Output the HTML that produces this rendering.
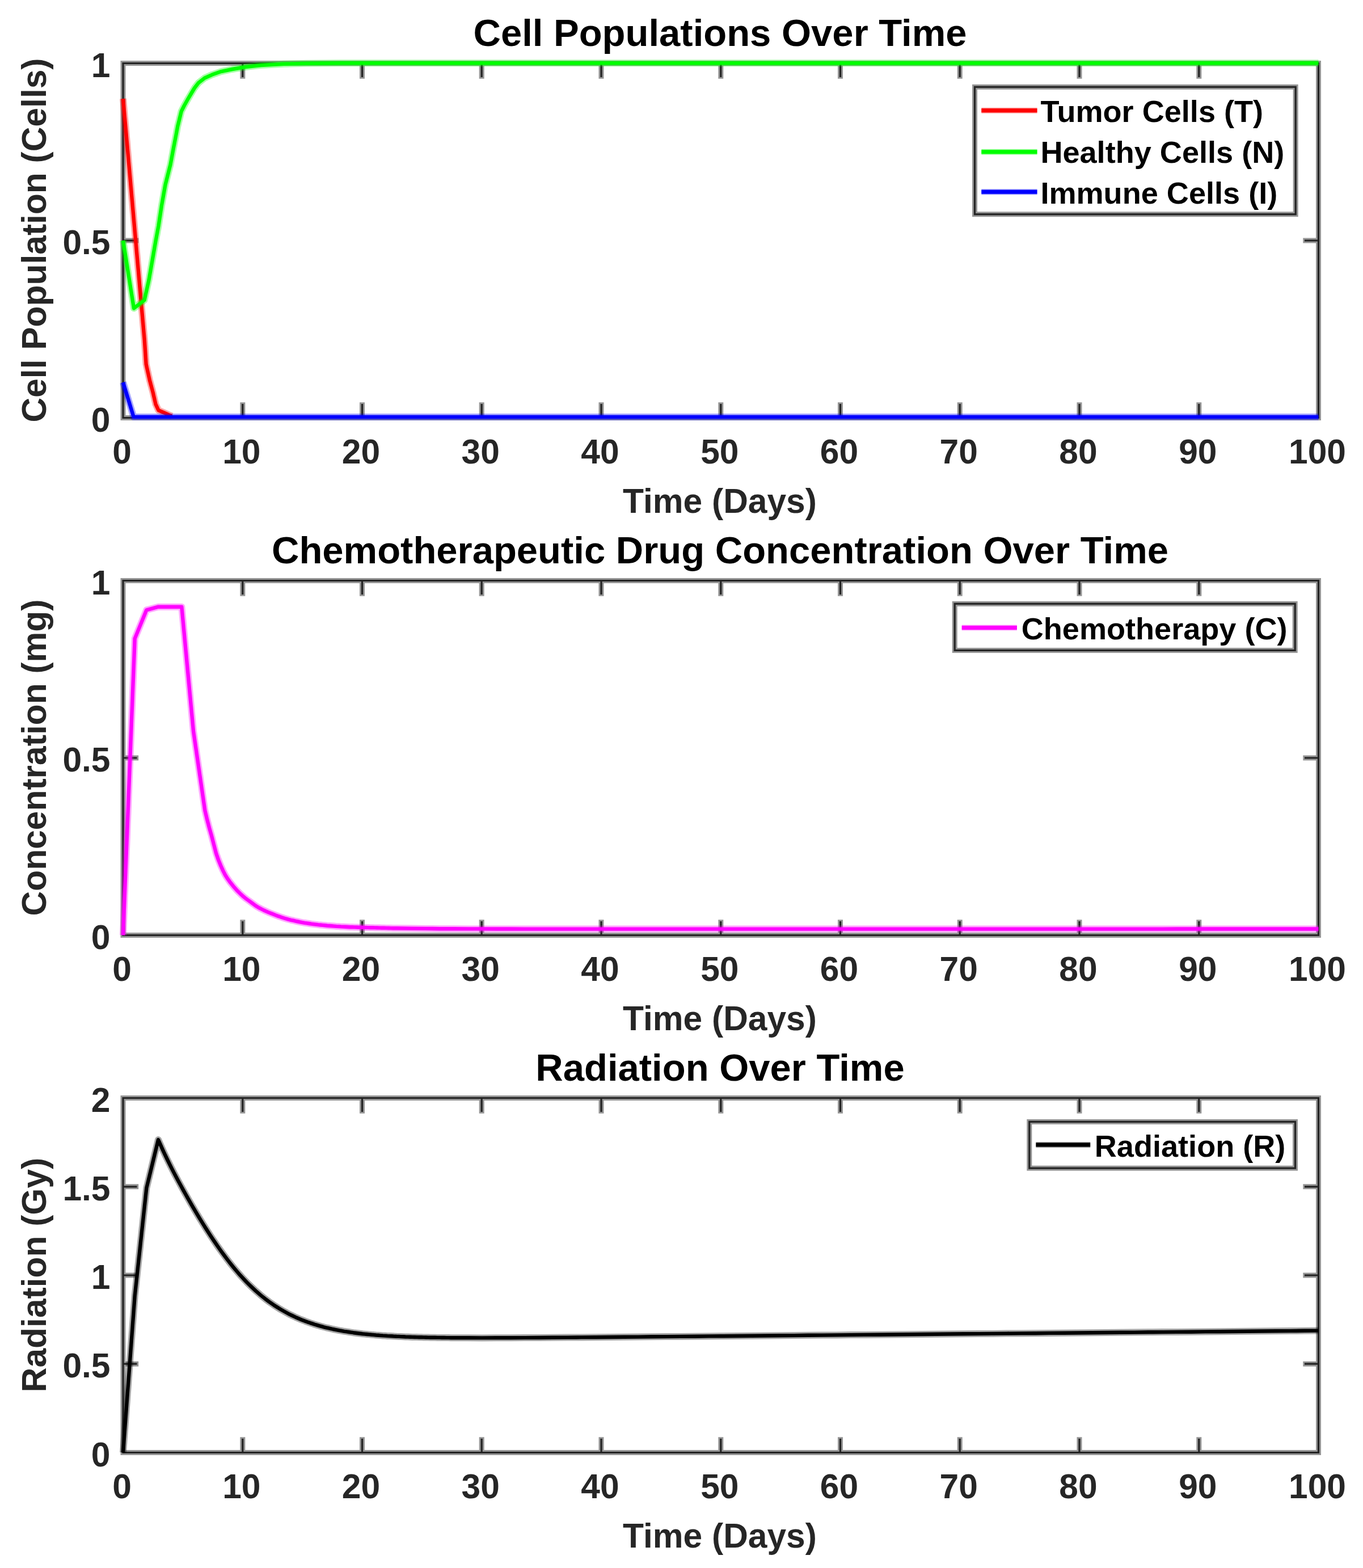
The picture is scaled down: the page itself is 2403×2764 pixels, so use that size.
<!DOCTYPE html>
<html><head><meta charset="utf-8"><title>Cell Populations, Chemotherapy and Radiation Over Time</title>
<style>
html,body{margin:0;padding:0;background:#fff;}
svg{display:block;}
.tk{font-family:'Liberation Sans', Arial, Helvetica, sans-serif;font-weight:bold;font-size:60.5px;fill:#262626;}
.tt{font-family:'Liberation Sans', Arial, Helvetica, sans-serif;font-weight:bold;font-size:67px;fill:#000;}
.lg{font-family:'Liberation Sans', Arial, Helvetica, sans-serif;font-weight:bold;font-size:54.1px;fill:#000;}
</style></head><body>
<svg width="2403" height="2764" viewBox="0 0 2403 2764">
<rect width="2403" height="2764" fill="#fff"/>
<path d="M217 111.5H2324.5V736.5H217ZM427.8 736.5v-27.2M427.8 111.5v27.2M638.5 736.5v-27.2M638.5 111.5v27.2M849.2 736.5v-27.2M849.2 111.5v27.2M1060 736.5v-27.2M1060 111.5v27.2M1270.8 736.5v-27.2M1270.8 111.5v27.2M1481.5 736.5v-27.2M1481.5 111.5v27.2M1692.2 736.5v-27.2M1692.2 111.5v27.2M1903 736.5v-27.2M1903 111.5v27.2M2113.8 736.5v-27.2M2113.8 111.5v27.2M217 424h27.2M2324.5 424h-27.2" fill="none" stroke="#959595" stroke-width="9" stroke-linejoin="miter"/>
<path d="M217 111.5H2324.5V736.5H217ZM427.8 736.5v-24.5M427.8 111.5v24.5M638.5 736.5v-24.5M638.5 111.5v24.5M849.2 736.5v-24.5M849.2 111.5v24.5M1060 736.5v-24.5M1060 111.5v24.5M1270.8 736.5v-24.5M1270.8 111.5v24.5M1481.5 736.5v-24.5M1481.5 111.5v24.5M1692.2 736.5v-24.5M1692.2 111.5v24.5M1903 736.5v-24.5M1903 111.5v24.5M2113.8 736.5v-24.5M2113.8 111.5v24.5M217 424h24.5M2324.5 424h-24.5" fill="none" stroke="#232323" stroke-width="3.2" stroke-linejoin="miter"/>
<path d="M217 174 L254.8 600 L257.6 642 L263.9 670.4 L269.6 691.5 L274.5 712.6 L279.4 723.2 L289.3 727.5 L297 731 L303 733.5" fill="none" stroke="#ff0000" stroke-opacity="0.35" stroke-width="12" stroke-linejoin="round"/>
<path d="M217 174 L254.8 600 L257.6 642 L263.9 670.4 L269.6 691.5 L274.5 712.6 L279.4 723.2 L289.3 727.5 L297 731 L303 733.5" fill="none" stroke="#ff0000" stroke-width="6.4" stroke-linejoin="round"/>
<path d="M217 424 L236 543.5 L254.6 529 L262.5 493.5 L268.6 458.6 L274.7 423.7 L279.5 398 L285 362 L291.5 325.6 L300.5 290 L305.7 262 L310 240 L313.3 222.4 L316.2 210.8 L319.7 196.2 L324.9 186 L330.8 175.5 L337 165 L343 155 L350 146 L360.9 137.5 L374.2 131.6 L389.8 126.1 L409.4 122 L432.8 118 L460 115 L500 112.8 L540 111.8 L600 111.3 L2324.5 111.2" fill="none" stroke="#00ff00" stroke-opacity="0.35" stroke-width="12" stroke-linejoin="round"/>
<path d="M217 424 L236 543.5 L254.6 529 L262.5 493.5 L268.6 458.6 L274.7 423.7 L279.5 398 L285 362 L291.5 325.6 L300.5 290 L305.7 262 L310 240 L313.3 222.4 L316.2 210.8 L319.7 196.2 L324.9 186 L330.8 175.5 L337 165 L343 155 L350 146 L360.9 137.5 L374.2 131.6 L389.8 126.1 L409.4 122 L432.8 118 L460 115 L500 112.8 L540 111.8 L600 111.3 L2324.5 111.2" fill="none" stroke="#00ff00" stroke-width="6.4" stroke-linejoin="round"/>
<path d="M217 674 L235.6 735 L2324.5 735" fill="none" stroke="#0000ff" stroke-opacity="0.35" stroke-width="12" stroke-linejoin="round"/>
<path d="M217 674 L235.6 735 L2324.5 735" fill="none" stroke="#0000ff" stroke-width="6.4" stroke-linejoin="round"/>
<text x="215" y="817" text-anchor="middle" class="tk">0</text>
<text x="425.8" y="817" text-anchor="middle" class="tk">10</text>
<text x="636.5" y="817" text-anchor="middle" class="tk">20</text>
<text x="847.2" y="817" text-anchor="middle" class="tk">30</text>
<text x="1058" y="817" text-anchor="middle" class="tk">40</text>
<text x="1268.8" y="817" text-anchor="middle" class="tk">50</text>
<text x="1479.5" y="817" text-anchor="middle" class="tk">60</text>
<text x="1690.2" y="817" text-anchor="middle" class="tk">70</text>
<text x="1901" y="817" text-anchor="middle" class="tk">80</text>
<text x="2111.8" y="817" text-anchor="middle" class="tk">90</text>
<text x="2322.5" y="817" text-anchor="middle" class="tk">100</text>
<text x="194.5" y="760.5" text-anchor="end" class="tk">0</text>
<text x="194.5" y="448" text-anchor="end" class="tk">0.5</text>
<text x="194.5" y="135.5" text-anchor="end" class="tk">1</text>
<text x="1269" y="903.5" text-anchor="middle" class="tk">Time (Days)</text>
<text x="1269.5" y="81" text-anchor="middle" class="tt">Cell Populations Over Time</text>
<text transform="translate(81 423.5) rotate(-90)" text-anchor="middle" class="tk">Cell Population (Cells)</text>
<rect x="1718.5" y="153.3" width="565.7" height="224.4" fill="#fff"/>
<rect x="1718.5" y="153.3" width="565.7" height="224.4" fill="none" stroke="#959595" stroke-width="9"/>
<rect x="1718.5" y="153.3" width="565.7" height="224.4" fill="none" stroke="#232323" stroke-width="3.2"/>
<path d="M1730.3 194.7H1828.5" stroke="#ff0000" stroke-opacity="0.4" stroke-width="10"/>
<path d="M1730.3 194.7H1828.5" stroke="#ff0000" stroke-width="7"/>
<text x="1834.4" y="215.3" class="lg">Tumor Cells (T)</text>
<path d="M1730.3 267.8H1828.5" stroke="#00ff00" stroke-opacity="0.4" stroke-width="10"/>
<path d="M1730.3 267.8H1828.5" stroke="#00ff00" stroke-width="7"/>
<text x="1834.4" y="287.3" class="lg">Healthy Cells (N)</text>
<path d="M1730.3 338.3H1828.5" stroke="#0000ff" stroke-opacity="0.4" stroke-width="10"/>
<path d="M1730.3 338.3H1828.5" stroke="#0000ff" stroke-width="7"/>
<text x="1834.4" y="359.3" class="lg">Immune Cells (I)</text>
<path d="M217 1023.5H2324.5V1648.5H217ZM427.8 1648.5v-27.2M427.8 1023.5v27.2M638.5 1648.5v-27.2M638.5 1023.5v27.2M849.2 1648.5v-27.2M849.2 1023.5v27.2M1060 1648.5v-27.2M1060 1023.5v27.2M1270.8 1648.5v-27.2M1270.8 1023.5v27.2M1481.5 1648.5v-27.2M1481.5 1023.5v27.2M1692.2 1648.5v-27.2M1692.2 1023.5v27.2M1903 1648.5v-27.2M1903 1023.5v27.2M2113.8 1648.5v-27.2M2113.8 1023.5v27.2M217 1336h27.2M2324.5 1336h-27.2" fill="none" stroke="#959595" stroke-width="9" stroke-linejoin="miter"/>
<path d="M217 1023.5H2324.5V1648.5H217ZM427.8 1648.5v-24.5M427.8 1023.5v24.5M638.5 1648.5v-24.5M638.5 1023.5v24.5M849.2 1648.5v-24.5M849.2 1023.5v24.5M1060 1648.5v-24.5M1060 1023.5v24.5M1270.8 1648.5v-24.5M1270.8 1023.5v24.5M1481.5 1648.5v-24.5M1481.5 1023.5v24.5M1692.2 1648.5v-24.5M1692.2 1023.5v24.5M1903 1648.5v-24.5M1903 1023.5v24.5M2113.8 1648.5v-24.5M2113.8 1023.5v24.5M217 1336h24.5M2324.5 1336h-24.5" fill="none" stroke="#232323" stroke-width="3.2" stroke-linejoin="miter"/>
<path d="M217 1648.5 L237.7 1125.6 L258.3 1075.3 L279 1069.7 L299.6 1069.7 L320.3 1069.7 L341 1289 L361.4 1429 L365 1444 L369 1459.4 L373 1473.4 L377 1488.7 L381 1504.1 L385 1515.6 L389 1525.5 L393 1534.4 L397 1542.2 L401 1548.6 L405 1554.2 L409 1559.3 L413 1564.2 L417 1568.7 L421 1572.8 L425 1576.7 L429 1580.3 L433 1583.6 L437 1586.5 L441 1589.4 L445 1592.3 L449 1595.3 L453 1598.1 L457 1600.4 L461 1602.5 L465 1604.5 L469 1606.3 L473 1608.1 L477 1609.7 L481 1611.3 L485 1612.9 L489 1614.4 L493 1615.8 L497 1617.2 L501 1618.5 L505 1619.7 L509 1620.8 L513 1621.8 L517 1622.7 L521 1623.7 L525 1624.5 L529 1625.3 L533 1626.1 L537 1626.8 L541 1627.4 L545 1628 L549 1628.6 L553 1629.1 L557 1629.6 L561 1630.1 L565 1630.5 L569 1630.9 L573 1631.3 L577 1631.7 L581 1632 L585 1632.3 L589 1632.6 L593 1632.9 L597 1633.1 L601 1633.4 L605 1633.6 L609 1633.8 L613 1634 L617 1634.2 L621 1634.3 L625 1634.4 L629 1634.5 L633 1634.7 L637 1634.8 L641 1634.9 L645 1635 L649 1635.1 L653 1635.2 L657 1635.3 L661 1635.4 L665 1635.5 L669 1635.6 L673 1635.7 L677 1635.8 L681 1635.9 L685 1636 L689 1636.1 L693 1636.2 L697 1636.3 L700 1636.3 L725 1636.6 L750 1636.9 L775 1637.2 L800 1637.3 L825 1637.4 L850 1637.4 L875 1637.5 L900 1637.5 L925 1637.6 L950 1637.6 L975 1637.6 L1000 1637.6 L1025 1637.6 L1050 1637.6 L1075 1637.6 L1100 1637.6 L1125 1637.6 L1150 1637.6 L1175 1637.6 L1200 1637.6 L1225 1637.6 L1250 1637.6 L1275 1637.6 L1300 1637.6 L1325 1637.6 L1350 1637.6 L1375 1637.6 L1400 1637.6 L1425 1637.6 L1450 1637.6 L1475 1637.6 L1500 1637.6 L1525 1637.6 L1550 1637.6 L1575 1637.6 L1600 1637.6 L1625 1637.6 L1650 1637.6 L1675 1637.6 L1700 1637.6 L1725 1637.6 L1750 1637.6 L1775 1637.6 L1800 1637.6 L1825 1637.6 L1850 1637.6 L1875 1637.6 L1900 1637.6 L1925 1637.6 L1950 1637.6 L1975 1637.6 L2000 1637.6 L2025 1637.6 L2050 1637.6 L2075 1637.5 L2100 1637.5 L2125 1637.5 L2150 1637.5 L2175 1637.5 L2200 1637.5 L2225 1637.5 L2250 1637.5 L2275 1637.5 L2300 1637.5 L2324.5 1637.5" fill="none" stroke="#ff00ff" stroke-opacity="0.35" stroke-width="12" stroke-linejoin="round"/>
<path d="M217 1648.5 L237.7 1125.6 L258.3 1075.3 L279 1069.7 L299.6 1069.7 L320.3 1069.7 L341 1289 L361.4 1429 L365 1444 L369 1459.4 L373 1473.4 L377 1488.7 L381 1504.1 L385 1515.6 L389 1525.5 L393 1534.4 L397 1542.2 L401 1548.6 L405 1554.2 L409 1559.3 L413 1564.2 L417 1568.7 L421 1572.8 L425 1576.7 L429 1580.3 L433 1583.6 L437 1586.5 L441 1589.4 L445 1592.3 L449 1595.3 L453 1598.1 L457 1600.4 L461 1602.5 L465 1604.5 L469 1606.3 L473 1608.1 L477 1609.7 L481 1611.3 L485 1612.9 L489 1614.4 L493 1615.8 L497 1617.2 L501 1618.5 L505 1619.7 L509 1620.8 L513 1621.8 L517 1622.7 L521 1623.7 L525 1624.5 L529 1625.3 L533 1626.1 L537 1626.8 L541 1627.4 L545 1628 L549 1628.6 L553 1629.1 L557 1629.6 L561 1630.1 L565 1630.5 L569 1630.9 L573 1631.3 L577 1631.7 L581 1632 L585 1632.3 L589 1632.6 L593 1632.9 L597 1633.1 L601 1633.4 L605 1633.6 L609 1633.8 L613 1634 L617 1634.2 L621 1634.3 L625 1634.4 L629 1634.5 L633 1634.7 L637 1634.8 L641 1634.9 L645 1635 L649 1635.1 L653 1635.2 L657 1635.3 L661 1635.4 L665 1635.5 L669 1635.6 L673 1635.7 L677 1635.8 L681 1635.9 L685 1636 L689 1636.1 L693 1636.2 L697 1636.3 L700 1636.3 L725 1636.6 L750 1636.9 L775 1637.2 L800 1637.3 L825 1637.4 L850 1637.4 L875 1637.5 L900 1637.5 L925 1637.6 L950 1637.6 L975 1637.6 L1000 1637.6 L1025 1637.6 L1050 1637.6 L1075 1637.6 L1100 1637.6 L1125 1637.6 L1150 1637.6 L1175 1637.6 L1200 1637.6 L1225 1637.6 L1250 1637.6 L1275 1637.6 L1300 1637.6 L1325 1637.6 L1350 1637.6 L1375 1637.6 L1400 1637.6 L1425 1637.6 L1450 1637.6 L1475 1637.6 L1500 1637.6 L1525 1637.6 L1550 1637.6 L1575 1637.6 L1600 1637.6 L1625 1637.6 L1650 1637.6 L1675 1637.6 L1700 1637.6 L1725 1637.6 L1750 1637.6 L1775 1637.6 L1800 1637.6 L1825 1637.6 L1850 1637.6 L1875 1637.6 L1900 1637.6 L1925 1637.6 L1950 1637.6 L1975 1637.6 L2000 1637.6 L2025 1637.6 L2050 1637.6 L2075 1637.5 L2100 1637.5 L2125 1637.5 L2150 1637.5 L2175 1637.5 L2200 1637.5 L2225 1637.5 L2250 1637.5 L2275 1637.5 L2300 1637.5 L2324.5 1637.5" fill="none" stroke="#ff00ff" stroke-width="6.4" stroke-linejoin="round"/>
<text x="215" y="1729" text-anchor="middle" class="tk">0</text>
<text x="425.8" y="1729" text-anchor="middle" class="tk">10</text>
<text x="636.5" y="1729" text-anchor="middle" class="tk">20</text>
<text x="847.2" y="1729" text-anchor="middle" class="tk">30</text>
<text x="1058" y="1729" text-anchor="middle" class="tk">40</text>
<text x="1268.8" y="1729" text-anchor="middle" class="tk">50</text>
<text x="1479.5" y="1729" text-anchor="middle" class="tk">60</text>
<text x="1690.2" y="1729" text-anchor="middle" class="tk">70</text>
<text x="1901" y="1729" text-anchor="middle" class="tk">80</text>
<text x="2111.8" y="1729" text-anchor="middle" class="tk">90</text>
<text x="2322.5" y="1729" text-anchor="middle" class="tk">100</text>
<text x="194.5" y="1672.5" text-anchor="end" class="tk">0</text>
<text x="194.5" y="1360" text-anchor="end" class="tk">0.5</text>
<text x="194.5" y="1047.5" text-anchor="end" class="tk">1</text>
<text x="1269" y="1815.5" text-anchor="middle" class="tk">Time (Days)</text>
<text x="1269.5" y="993" text-anchor="middle" class="tt">Chemotherapeutic Drug Concentration Over Time</text>
<text transform="translate(81 1335.5) rotate(-90)" text-anchor="middle" class="tk">Concentration (mg)</text>
<rect x="1683.2" y="1064.3" width="600" height="82.1" fill="#fff"/>
<rect x="1683.2" y="1064.3" width="600" height="82.1" fill="none" stroke="#959595" stroke-width="9"/>
<rect x="1683.2" y="1064.3" width="600" height="82.1" fill="none" stroke="#232323" stroke-width="3.2"/>
<path d="M1695.7 1106.4H1792.9" stroke="#ff00ff" stroke-opacity="0.4" stroke-width="10"/>
<path d="M1695.7 1106.4H1792.9" stroke="#ff00ff" stroke-width="7"/>
<text x="1800.7" y="1127" class="lg">Chemotherapy (C)</text>
<path d="M217 1935.5H2324.5V2560.5H217ZM427.8 2560.5v-27.2M427.8 1935.5v27.2M638.5 2560.5v-27.2M638.5 1935.5v27.2M849.2 2560.5v-27.2M849.2 1935.5v27.2M1060 2560.5v-27.2M1060 1935.5v27.2M1270.8 2560.5v-27.2M1270.8 1935.5v27.2M1481.5 2560.5v-27.2M1481.5 1935.5v27.2M1692.2 2560.5v-27.2M1692.2 1935.5v27.2M1903 2560.5v-27.2M1903 1935.5v27.2M2113.8 2560.5v-27.2M2113.8 1935.5v27.2M217 2404.2h27.2M2324.5 2404.2h-27.2M217 2248h27.2M2324.5 2248h-27.2M217 2091.8h27.2M2324.5 2091.8h-27.2" fill="none" stroke="#959595" stroke-width="9" stroke-linejoin="miter"/>
<path d="M217 1935.5H2324.5V2560.5H217ZM427.8 2560.5v-24.5M427.8 1935.5v24.5M638.5 2560.5v-24.5M638.5 1935.5v24.5M849.2 2560.5v-24.5M849.2 1935.5v24.5M1060 2560.5v-24.5M1060 1935.5v24.5M1270.8 2560.5v-24.5M1270.8 1935.5v24.5M1481.5 2560.5v-24.5M1481.5 1935.5v24.5M1692.2 2560.5v-24.5M1692.2 1935.5v24.5M1903 2560.5v-24.5M1903 1935.5v24.5M2113.8 2560.5v-24.5M2113.8 1935.5v24.5M217 2404.2h24.5M2324.5 2404.2h-24.5M217 2248h24.5M2324.5 2248h-24.5M217 2091.8h24.5M2324.5 2091.8h-24.5" fill="none" stroke="#232323" stroke-width="3.2" stroke-linejoin="miter"/>
<path d="M217 2560.5 L237.7 2284 L258.3 2094.3 L279 2009 L283 2018.1 L287 2027.1 L291 2035.7 L295 2044 L299 2052.2 L303 2060.1 L307 2067.9 L311 2075.5 L315 2083 L319 2090.3 L323 2097.6 L327 2104.8 L331 2111.9 L335 2118.9 L339 2125.8 L343 2132.7 L347 2139.4 L351 2146.1 L355 2152.6 L359 2159.1 L363 2165.5 L367 2171.7 L371 2177.9 L375 2184 L379 2189.9 L383 2195.8 L387 2201.5 L391 2207.1 L395 2212.5 L399 2217.9 L403 2223.1 L407 2228.2 L411 2233.2 L415 2238 L419 2242.7 L423 2247.3 L427 2251.7 L431 2256 L435 2260.2 L439 2264.2 L443 2268.1 L447 2271.9 L451 2275.6 L455 2279.1 L459 2282.6 L463 2285.9 L467 2289.1 L471 2292.1 L475 2295.1 L479 2297.9 L483 2300.7 L487 2303.3 L491 2305.8 L495 2308.3 L499 2310.6 L503 2312.8 L507 2315 L511 2317.1 L515 2319 L519 2320.9 L523 2322.8 L527 2324.5 L531 2326.2 L535 2327.7 L539 2329.3 L543 2330.7 L547 2332.1 L551 2333.4 L555 2334.7 L559 2335.9 L563 2337.1 L567 2338.2 L571 2339.3 L575 2340.3 L579 2341.2 L583 2342.1 L587 2343 L591 2343.8 L595 2344.6 L599 2345.4 L603 2346.1 L607 2346.8 L611 2347.4 L615 2348 L619 2348.6 L623 2349.2 L627 2349.7 L631 2350.2 L635 2350.7 L639 2351.2 L643 2351.6 L647 2352 L651 2352.4 L655 2352.8 L659 2353.1 L663 2353.5 L667 2353.8 L671 2354.1 L675 2354.4 L679 2354.6 L683 2354.9 L687 2355.1 L691 2355.3 L695 2355.6 L699 2355.8 L703 2355.9 L707 2356.1 L711 2356.3 L715 2356.5 L719 2356.6 L723 2356.7 L727 2356.9 L731 2357 L735 2357.1 L739 2357.2 L743 2357.3 L747 2357.4 L751 2357.5 L755 2357.6 L759 2357.7 L763 2357.7 L767 2357.8 L771 2357.9 L775 2357.9 L779 2358 L783 2358 L787 2358.1 L791 2358.1 L795 2358.2 L799 2358.2 L800 2358.2 L825 2358.3 L850 2358.4 L875 2358.3 L900 2358.2 L925 2358.1 L950 2358 L975 2357.8 L1000 2357.6 L1025 2357.4 L1050 2357.2 L1075 2357 L1100 2356.8 L1125 2356.6 L1150 2356.3 L1175 2356.1 L1200 2355.9 L1225 2355.7 L1250 2355.4 L1275 2355.2 L1300 2355 L1325 2354.7 L1350 2354.5 L1375 2354.3 L1400 2354.1 L1425 2353.8 L1450 2353.6 L1475 2353.4 L1500 2353.1 L1525 2352.9 L1550 2352.7 L1575 2352.5 L1600 2352.2 L1625 2352 L1650 2351.8 L1675 2351.5 L1700 2351.3 L1725 2351.1 L1750 2350.9 L1775 2350.6 L1800 2350.4 L1825 2350.2 L1850 2349.9 L1875 2349.7 L1900 2349.5 L1925 2349.3 L1950 2349 L1975 2348.8 L2000 2348.6 L2025 2348.3 L2050 2348.1 L2075 2347.9 L2100 2347.7 L2125 2347.4 L2150 2347.2 L2175 2347 L2200 2346.7 L2225 2346.5 L2250 2346.3 L2275 2346.1 L2300 2345.8 L2324.5 2345.6" fill="none" stroke="#000000" stroke-opacity="0.35" stroke-width="12" stroke-linejoin="round"/>
<path d="M217 2560.5 L237.7 2284 L258.3 2094.3 L279 2009 L283 2018.1 L287 2027.1 L291 2035.7 L295 2044 L299 2052.2 L303 2060.1 L307 2067.9 L311 2075.5 L315 2083 L319 2090.3 L323 2097.6 L327 2104.8 L331 2111.9 L335 2118.9 L339 2125.8 L343 2132.7 L347 2139.4 L351 2146.1 L355 2152.6 L359 2159.1 L363 2165.5 L367 2171.7 L371 2177.9 L375 2184 L379 2189.9 L383 2195.8 L387 2201.5 L391 2207.1 L395 2212.5 L399 2217.9 L403 2223.1 L407 2228.2 L411 2233.2 L415 2238 L419 2242.7 L423 2247.3 L427 2251.7 L431 2256 L435 2260.2 L439 2264.2 L443 2268.1 L447 2271.9 L451 2275.6 L455 2279.1 L459 2282.6 L463 2285.9 L467 2289.1 L471 2292.1 L475 2295.1 L479 2297.9 L483 2300.7 L487 2303.3 L491 2305.8 L495 2308.3 L499 2310.6 L503 2312.8 L507 2315 L511 2317.1 L515 2319 L519 2320.9 L523 2322.8 L527 2324.5 L531 2326.2 L535 2327.7 L539 2329.3 L543 2330.7 L547 2332.1 L551 2333.4 L555 2334.7 L559 2335.9 L563 2337.1 L567 2338.2 L571 2339.3 L575 2340.3 L579 2341.2 L583 2342.1 L587 2343 L591 2343.8 L595 2344.6 L599 2345.4 L603 2346.1 L607 2346.8 L611 2347.4 L615 2348 L619 2348.6 L623 2349.2 L627 2349.7 L631 2350.2 L635 2350.7 L639 2351.2 L643 2351.6 L647 2352 L651 2352.4 L655 2352.8 L659 2353.1 L663 2353.5 L667 2353.8 L671 2354.1 L675 2354.4 L679 2354.6 L683 2354.9 L687 2355.1 L691 2355.3 L695 2355.6 L699 2355.8 L703 2355.9 L707 2356.1 L711 2356.3 L715 2356.5 L719 2356.6 L723 2356.7 L727 2356.9 L731 2357 L735 2357.1 L739 2357.2 L743 2357.3 L747 2357.4 L751 2357.5 L755 2357.6 L759 2357.7 L763 2357.7 L767 2357.8 L771 2357.9 L775 2357.9 L779 2358 L783 2358 L787 2358.1 L791 2358.1 L795 2358.2 L799 2358.2 L800 2358.2 L825 2358.3 L850 2358.4 L875 2358.3 L900 2358.2 L925 2358.1 L950 2358 L975 2357.8 L1000 2357.6 L1025 2357.4 L1050 2357.2 L1075 2357 L1100 2356.8 L1125 2356.6 L1150 2356.3 L1175 2356.1 L1200 2355.9 L1225 2355.7 L1250 2355.4 L1275 2355.2 L1300 2355 L1325 2354.7 L1350 2354.5 L1375 2354.3 L1400 2354.1 L1425 2353.8 L1450 2353.6 L1475 2353.4 L1500 2353.1 L1525 2352.9 L1550 2352.7 L1575 2352.5 L1600 2352.2 L1625 2352 L1650 2351.8 L1675 2351.5 L1700 2351.3 L1725 2351.1 L1750 2350.9 L1775 2350.6 L1800 2350.4 L1825 2350.2 L1850 2349.9 L1875 2349.7 L1900 2349.5 L1925 2349.3 L1950 2349 L1975 2348.8 L2000 2348.6 L2025 2348.3 L2050 2348.1 L2075 2347.9 L2100 2347.7 L2125 2347.4 L2150 2347.2 L2175 2347 L2200 2346.7 L2225 2346.5 L2250 2346.3 L2275 2346.1 L2300 2345.8 L2324.5 2345.6" fill="none" stroke="#000000" stroke-width="6.4" stroke-linejoin="round"/>
<text x="215" y="2641" text-anchor="middle" class="tk">0</text>
<text x="425.8" y="2641" text-anchor="middle" class="tk">10</text>
<text x="636.5" y="2641" text-anchor="middle" class="tk">20</text>
<text x="847.2" y="2641" text-anchor="middle" class="tk">30</text>
<text x="1058" y="2641" text-anchor="middle" class="tk">40</text>
<text x="1268.8" y="2641" text-anchor="middle" class="tk">50</text>
<text x="1479.5" y="2641" text-anchor="middle" class="tk">60</text>
<text x="1690.2" y="2641" text-anchor="middle" class="tk">70</text>
<text x="1901" y="2641" text-anchor="middle" class="tk">80</text>
<text x="2111.8" y="2641" text-anchor="middle" class="tk">90</text>
<text x="2322.5" y="2641" text-anchor="middle" class="tk">100</text>
<text x="194.5" y="2584.5" text-anchor="end" class="tk">0</text>
<text x="194.5" y="2428.2" text-anchor="end" class="tk">0.5</text>
<text x="194.5" y="2272" text-anchor="end" class="tk">1</text>
<text x="194.5" y="2115.8" text-anchor="end" class="tk">1.5</text>
<text x="194.5" y="1959.5" text-anchor="end" class="tk">2</text>
<text x="1269" y="2727.5" text-anchor="middle" class="tk">Time (Days)</text>
<text x="1269.5" y="1905" text-anchor="middle" class="tt">Radiation Over Time</text>
<text transform="translate(81 2247.5) rotate(-90)" text-anchor="middle" class="tk">Radiation (Gy)</text>
<rect x="1814.8" y="1977.4" width="468.7" height="81.8" fill="#fff"/>
<rect x="1814.8" y="1977.4" width="468.7" height="81.8" fill="none" stroke="#959595" stroke-width="9"/>
<rect x="1814.8" y="1977.4" width="468.7" height="81.8" fill="none" stroke="#232323" stroke-width="3.2"/>
<path d="M1826.4 2018H1922.2" stroke="#000000" stroke-opacity="0.4" stroke-width="10"/>
<path d="M1826.4 2018H1922.2" stroke="#000000" stroke-width="7"/>
<text x="1929.8" y="2038.6" class="lg">Radiation (R)</text>
</svg>
</body></html>
